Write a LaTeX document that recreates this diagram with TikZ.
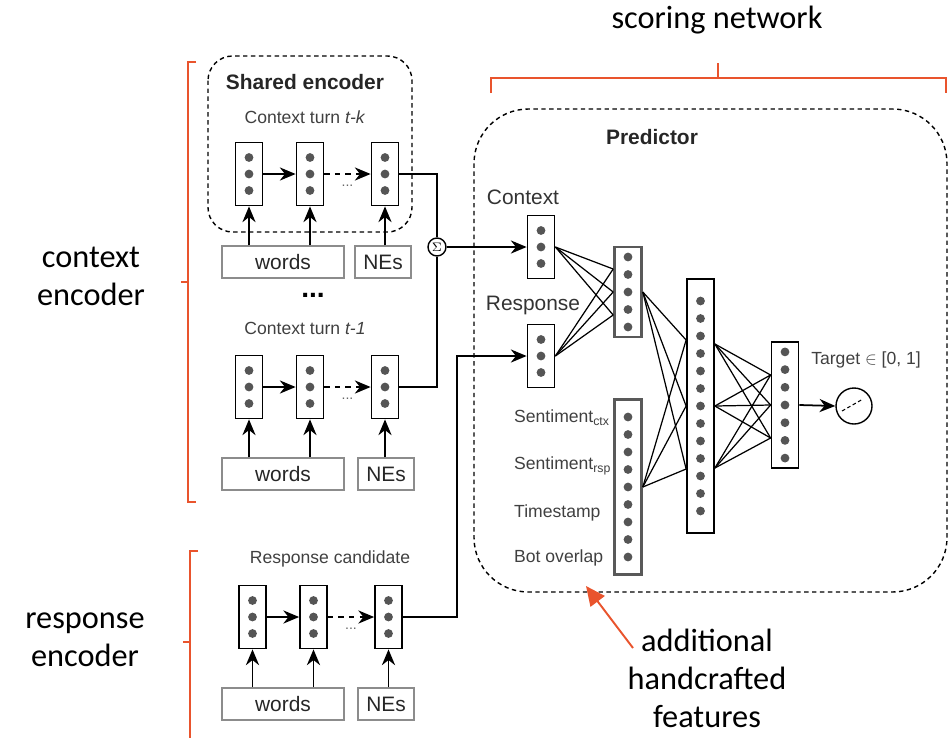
\documentclass[tikz,border=0pt]{standalone}
\usepackage{fontspec}
\setmainfont{Liberation Sans}
\newfontfamily\notefont{Carlito}
\usepackage{tikz}
\usetikzlibrary{arrows.meta,calc}
\definecolor{notered}{RGB}{233,84,45}
\definecolor{dotgray}{RGB}{85,85,85}
\newdimen\pxu \pxu=0.02cm

% one vector: [style]{name}{x}{y}{height}{dots}{gap}
\newcommand{\layer}[7][cell]{%
  \node[#1, minimum height=#5\pxu] (#2) at (#3,#4) {};
  \foreach \i in {1,...,#6}
    \fill[dotgray] (#3, {#4+(\i-(#6+1)/2)*#7}) circle (2.5pt);
}
% one encoder row: {prefix}{cell y}{x shift}{input y}{NEs x}
\newcommand{\encrow}[5]{%
  \layer{#1a}{249+#3}{#2}{63}{3}{16.5}
  \layer{#1b}{310+#3}{#2}{63}{3}{16.5}
  \layer{#1c}{385+#3}{#2}{63}{3}{16.5}
  \node[inbox, minimum width=122\pxu] (#1w) at (283,#4) {words};
  \node[inbox, minimum width=56\pxu] (#1n) at (#5,#4) {NEs};
  \draw[arr] (#1a.east) -- (#1b.west);
  \draw[arr, dashed] (#1b.east) -- (#1c.west);
  \node[gap] (#1g) at ($(#1b.east)!.5!(#1c.west)+(0,12)$) {...};
  \draw[arr] (#1w.north -| #1a) -- (#1a.south);
  \draw[arr] (#1w.north -| #1b) -- (#1b.south);
  \draw[arr] (#1n.north -| #1c) -- (#1c.south);
}

\begin{document}
\begin{tikzpicture}[x=0.02cm, y=-0.02cm,
  cell/.style={draw, line width=1pt, minimum width=27\pxu, inner sep=0pt},
  hcell/.style={cell, draw=black!65, line width=1.5pt},
  inbox/.style={draw=black!45, line width=0.8pt, minimum height=32\pxu, inner sep=0pt, text=black!85, font=\fontsize{11.9}{14}\selectfont},
  arr/.style={-{Stealth[length=9pt,width=7.5pt]}, line width=1pt},
  link/.style={line width=0.7pt},
  group/.style={draw, dash pattern=on 2.5pt off 2pt, line width=0.8pt},
  title/.style={font=\bfseries\fontsize{11.9}{14}\selectfont, text=black!85},
  lbl/.style={font=\fontsize{11.9}{14}\selectfont, text=black!80},
  small/.style={font=\fontsize{10}{12}\selectfont, text=black!75},
  gap/.style={font=\fontsize{8}{9}\selectfont, text=black!60, inner sep=0pt},
  note/.style={font=\notefont\fontsize{18.4}{21.6}\selectfont, align=center},
  brace/.style={draw=notered, line width=1.1pt}
]
\useasboundingbox (0,0) rectangle (950,738);

% encoders
\draw[group, rounded corners=14pt] (208,56) rectangle (412,232);
\node[title] (shared) at (305,82) {Shared encoder};
\node[small] (turnk) at (305,117) {Context turn \textit{t-k}};
\encrow{r1}{174}{0}{262}{383}
\node[font=\bfseries\fontsize{16}{16}\selectfont, inner sep=0pt] (more) at (313,295) {...};
\node[small] (turn1) at (305,328) {Context turn \textit{t-1}};
\encrow{r2}{387}{0}{474}{386}
\node[small] (cand) at (330,559) {Response candidate};
\encrow{r3}{617}{3.5}{704}{386}

\node[circle, draw, line width=0.8pt, inner sep=0pt, minimum size=18\pxu, font=\fontsize{7}{8}\selectfont] (sum) at (437,247) {$\Sigma$};
\draw[line width=1pt] (r1c.east) -| (sum.north);
\draw[line width=1pt] (r2c.east) -| (sum.south);
\coordinate (turn) at (457,617);

% predictor
\draw[group, rounded corners=31pt] (474,109) rectangle (947,592);
\node[title] (pred) at (652,137) {Predictor};
\node[lbl] (ctxlbl) at (523,197) {Context};
\node[lbl] (rsplbl) at (533,305) {Response};
\layer{ctx}{541}{247}{63}{3}{16.5}
\layer{rsp}{541}{356}{63}{3}{16.5}
\layer[hcell]{hid1}{628}{292}{90}{5}{17.5}
\layer[hcell]{feat}{628}{487}{175}{9}{17.5}
\layer{hid2}{700.5}{406}{254}{13}{17.5}
\layer{out}{785}{405}{126}{7}{17.7}
\node[circle, draw, line width=0.8pt, minimum size=36\pxu] (tgt) at (854,406) {};
\draw[dash pattern=on 2pt off 1.5pt, line width=0.6pt] ($(tgt)+(-12,5)$) -- ($(tgt)+(9,-7)$);
\node[small] (tgtlbl) at (866,360) {Target $\in$ [0, 1]};

\node[small, anchor=west] (fctx) at (508,418) {Sentiment\textsubscript{ctx}};
\node[small, anchor=west] (frsp) at (508,466) {Sentiment\textsubscript{rsp}};
\node[small, anchor=west] (ftime) at (508,513) {Timestamp};
\node[small, anchor=west] (fbot) at (508,558) {Bot overlap};

\draw[arr] (sum.east) -- (ctx.west);
\draw[arr] (r3c.east) -- (turn) |- (rsp.west);
\foreach \src in {ctx,rsp}
  \foreach \dy in {-23,0,23}
    \draw[link] (\src.east) -- ($(hid1.west)+(0,\dy)$);
\foreach \src in {hid1,feat}
  \foreach \dy in {-66,0,63}
    \draw[link] (\src.east) -- ($(hid2.west)+(0,\dy)$);
\foreach \sy in {-62,0,62}
  \foreach \dy in {-30,0,33}
    \draw[link] ($(hid2.east)+(0,\sy)$) -- ($(out.west)+(0,\dy)$);
\draw[arr] (out.east) -- (tgt.west);

% notes
\draw[brace] (196,62) -- (188,62) -- (188,502) -- (196,502);
\draw[brace] (188,282) -- (181,282);
\node[note] (ctxnote) at (91,276) {context\\encoder};
\draw[brace] (198,551) -- (190,551) -- (190,738);
\draw[brace] (190,642) -- (183,642);
\node[note] (rspnote) at (85,640) {response\\encoder};
\draw[brace] (491,93) -- (491,78) -- (946,78) -- (946,93);
\draw[brace] (718,78) -- (718,63);
\node[note] (scorenote) at (717,20) {scoring network};
\node[note] (featnote) at (707,678) {additional\\handcrafted\\features};
\coordinate (tail) at (633,648);
\coordinate (head) at (586,586);
\draw[brace, -{Triangle[length=11pt,width=10pt]}] (tail) -- (head);
\end{tikzpicture}
\end{document}
